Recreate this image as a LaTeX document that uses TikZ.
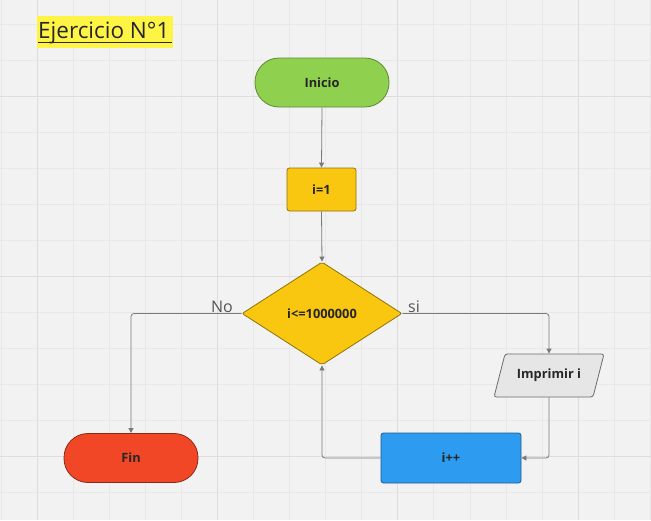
\documentclass[tikz,border=0pt]{standalone}
\usepackage{fontspec}
\setmainfont{Open Sans}
\usetikzlibrary{shapes.geometric,arrows.meta}
\definecolor{bg}{HTML}{F2F2F2}
\definecolor{gminor}{HTML}{E8E8E8}
\definecolor{gmajor}{HTML}{DDDDDD}
\definecolor{hl}{HTML}{FEF445}
\definecolor{cgreen}{HTML}{8FD14F}
\definecolor{cgreenb}{HTML}{5E8A34}
\definecolor{cyellow}{HTML}{FAC710}
\definecolor{cyellowb}{HTML}{8F720A}
\definecolor{cblue}{HTML}{2D9BF0}
\definecolor{cblueb}{HTML}{1D5E94}
\definecolor{cred}{HTML}{F24726}
\definecolor{credb}{HTML}{8A2A16}
\definecolor{cgray}{HTML}{E6E6E6}
\definecolor{cgrayb}{HTML}{6B6B6B}
\definecolor{conn}{HTML}{7A7A7A}
\definecolor{txt}{HTML}{262626}
\definecolor{lbl}{HTML}{555555}
\tikzset{
  base/.style={font=\fontsize{12.8}{15}\selectfont\bfseries, text=txt, line width=0.8pt, inner sep=0pt},
  terminal/.style={base, rectangle, rounded corners=24pt, minimum width=134pt, minimum height=49pt},
  procbox/.style={base, rectangle, rounded corners=2.5pt},
  decision/.style={base, diamond, minimum width=160pt, minimum height=103pt, rounded corners=2pt},
  ioshape/.style={base, rectangle, minimum width=100pt, minimum height=43pt},
  conn/.style={draw=conn, line width=0.8pt, rounded corners=3pt, -{Stealth[length=5pt,width=5pt,inset=0pt]}, color=conn},
  lab/.style={font=\fontsize{16}{18}\selectfont, text=lbl, inner sep=0pt}
}
\begin{document}
\begin{tikzpicture}[x=1pt,y=-1pt]
\fill[bg] (0,0) rectangle (651,520);
\useasboundingbox (0,0) rectangle (651,520);
% grid
\foreach \i in {0,...,18} {\draw[gminor, line width=0.6pt] ({0.9+36.07*\i},0) -- ({0.9+36.07*\i},520);}
\foreach \j in {0,...,14} {\draw[gminor, line width=0.6pt] (0,{23.86+36.07*\j}) -- (651,{23.86+36.07*\j});}
\foreach \x in {37,217.35,397.7,578.05} {\draw[gmajor, line width=1pt] (\x,0) -- (\x,520);}
\foreach \y in {96,276.35,456.7} {\draw[gmajor, line width=1pt] (0,\y) -- (651,\y);}
% title
\node[fill=hl, minimum width=136pt, minimum height=32pt, inner sep=0pt] (titlebox) at (105,32) {};
\node[font=\fontsize{22.5}{24}\selectfont, text=black!85, inner sep=0pt, anchor=base west] (title) at (38,38.5) {Ejercicio N°1};
\draw[black!85, line width=1.1pt] (38,42.8) -- (171.5,42.8);
% nodes
\node[terminal, fill=cgreen, draw=cgreenb] (inicio) at (322,82.5) {Inicio};
\node[procbox, fill=cyellow, draw=cyellowb, minimum width=69pt, minimum height=43pt] (init) at (321.5,189.5) {i=1};
\node[decision, fill=cyellow, draw=cyellowb] (cond) at (322,313.5) {i<=1000000};
\draw[base, fill=cgray, draw=cgrayb, rounded corners=2.5pt] (505,354) -- (604,354) -- (593,397) -- (494,397) -- cycle;
\node[ioshape] (print) at (549,375.5) {Imprimir i};
\node[procbox, fill=cblue, draw=cblueb, minimum width=140pt, minimum height=50pt] (inc) at (451,458) {i++};
\node[terminal, fill=cred, draw=credb] (fin) at (131,458) {Fin};
% connectors
\draw[conn] (inicio.south) -- (init.north);
\draw[conn] (init.south) -- (cond.north);
\draw[conn] (cond.west) -| (fin.north);
\draw[conn] (cond.east) -| (print.north);
\draw[conn] (print.south) |- (inc.east);
\draw[conn] (inc.west) -| (cond.south);
% labels
\node[lab, anchor=base] (nolab) at (222,312) {No};
\node[lab, anchor=base] (silab) at (414,312) {si};
\end{tikzpicture}
\end{document}
